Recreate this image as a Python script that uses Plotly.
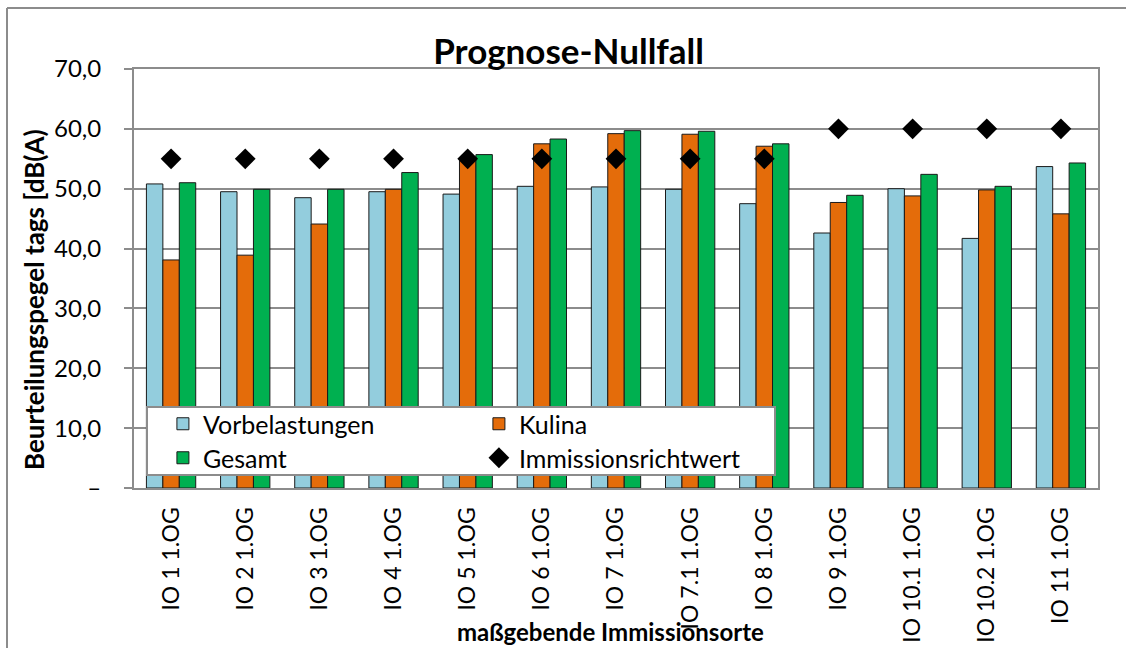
import plotly.graph_objects as go

# Immission points (category axis labels)
orte = ["IO 1 1.OG", "IO 2 1.OG", "IO 3 1.OG", "IO 4 1.OG", "IO 5 1.OG",
        "IO 6 1.OG", "IO 7 1.OG", "IO 7.1 1.OG", "IO 8 1.OG", "IO 9 1.OG",
        "IO 10.1 1.OG", "IO 10.2 1.OG", "IO 11 1.OG"]

# Rating levels by day in dB(A)
vorbelastungen = [50.8, 49.5, 48.5, 49.5, 49.1, 50.4, 50.3, 49.9, 47.5, 42.6, 50.0, 41.7, 53.7]
kulina = [38.1, 38.9, 44.1, 49.9, 54.9, 57.5, 59.2, 59.1, 57.1, 47.7, 48.8, 49.8, 45.8]
gesamt = [51.0, 49.9, 49.9, 52.7, 55.7, 58.3, 59.7, 59.6, 57.5, 48.9, 52.4, 50.4, 54.3]
richtwert = [55, 55, 55, 55, 55, 55, 55, 55, 55, 60, 60, 60, 60]

# Y axis ticks (German number format, zero shown as dash)
y_ticks = [0, 10, 20, 30, 40, 50, 60, 70]
y_ticktext = ["–", "10,0", "20,0", "30,0", "40,0", "50,0", "60,0", "70,0"]

FONT = "Lato"
GRID = "#8c8c8c"
outline = dict(color="#1a1a1a", width=1)

fig = go.Figure()
fig.add_trace(go.Bar(x=orte, y=vorbelastungen, name="Vorbelastungen",
                     marker=dict(color="#93CDDD", line=outline), legend="legend"))
fig.add_trace(go.Bar(x=orte, y=kulina, name="Kulina",
                     marker=dict(color="#E46C0A", line=outline), legend="legend"))
fig.add_trace(go.Bar(x=orte, y=gesamt, name="Gesamt",
                     marker=dict(color="#00B050", line=outline), legend="legend2"))
fig.add_trace(go.Scatter(x=orte, y=richtwert, name="Immissionsrichtwert", mode="markers",
                         marker=dict(symbol="diamond", size=16, color="black"),
                         legend="legend2"))

legend_common = dict(orientation="h", bgcolor="rgba(0,0,0,0)", borderwidth=0,
                     font=dict(family=FONT, size=25, color="black"),
                     entrywidth=271, entrywidthmode="pixels",
                     xanchor="left", yanchor="middle")

fig.update_layout(
    width=1126, height=648,
    margin=dict(l=134, r=28, t=69, b=160, autoexpand=False),
    paper_bgcolor="white", plot_bgcolor="white",
    barmode="group", bargap=0.335, bargroupgap=0,
    font=dict(family=FONT, color="black"),
    title=dict(text="<b>Prognose-Nullfall</b>", x=0.505, xanchor="center",
               y=1 - 52 / 648, yanchor="middle", yref="container",
               font=dict(family=FONT, size=35, color="black")),
    legend=dict(x=0.03, y=(488 - 424) / 419, **legend_common),
    legend2=dict(x=0.03, y=(488 - 458) / 419, **legend_common),
    xaxis=dict(type="category", range=[-0.5, len(orte) - 0.5],
               tickangle=-90, showgrid=False, automargin=False,
               showline=True, linecolor=GRID, linewidth=2, mirror=True,
               ticks="", ticklabelstandoff=8,
               tickfont=dict(family=FONT, size=23, color="black")),
    yaxis=dict(range=[0, 70], tickvals=y_ticks, ticktext=y_ticktext, automargin=False,
               showgrid=True, gridcolor=GRID, gridwidth=2,
               showline=True, linecolor=GRID, linewidth=2, mirror=True,
               ticks="outside", ticklen=8, tickcolor=GRID, tickwidth=2,
               ticklabelstandoff=18, zeroline=False,
               tickfont=dict(family=FONT, size=24, color="black")),
    shapes=[
        # legend box
        dict(type="rect", xref="paper", yref="paper",
             x0=(147 - 134) / 964, x1=(775 - 134) / 964,
             y0=(488 - 475) / 419, y1=(488 - 407) / 419,
             fillcolor="white", line=dict(color=GRID, width=2), layer="above"),
        # outer chart frame: top and left edges
        dict(type="line", xref="paper", yref="paper",
             x0=(7 - 134) / 964, x1=(1126 - 134) / 964,
             y0=(488 - 8) / 419, y1=(488 - 8) / 419,
             line=dict(color=GRID, width=2), layer="below"),
        dict(type="line", xref="paper", yref="paper",
             x0=(7 - 134) / 964, x1=(7 - 134) / 964,
             y0=(488 - 8) / 419, y1=(488 - 660) / 419,
             line=dict(color=GRID, width=2), layer="below"),
    ],
    annotations=[
        dict(text="<b>Beurteilungspegel tags [dB(A)</b>", textangle=-90,
             xref="paper", yref="paper", x=(34 - 134) / 964, y=(488 - 300) / 419,
             xanchor="center", yanchor="middle", showarrow=False,
             font=dict(family=FONT, size=26, color="black")),
        dict(text="<b>maßgebende Immissionsorte</b>",
             xref="paper", yref="paper", x=(610 - 134) / 964, y=(488 - 631) / 419,
             xanchor="center", yanchor="middle", showarrow=False,
             font=dict(family=FONT, size=24, color="black")),
    ],
)

fig.write_html("out.html", config={"displayModeBar": False})
